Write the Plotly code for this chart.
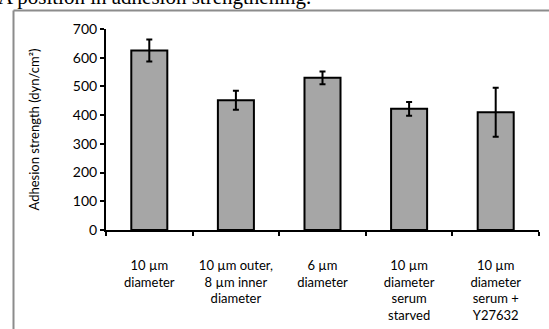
import plotly.graph_objects as go

categories = [
    "10 µm<br>diameter",
    "10 µm outer,<br>8 µm inner<br>diameter",
    "6 µm<br>diameter",
    "10 µm<br>diameter<br>serum<br>starved",
    "10 µm<br>diameter<br>serum +<br>Y27632",
]
values = [625, 452, 530, 422, 410]
errors = [38, 33, 22, 24, 85]
y_ticks = [0, 100, 200, 300, 400, 500, 600, 700]

W, H = 549, 329
L, R, T, B = 106, 10, 29, 99
pw, ph = W - L - R, H - T - B

def px_x(p):
    return (p - L) / pw

def px_y(p):
    return (H - B - p) / ph

fig = go.Figure()
fig.add_trace(go.Bar(
    x=categories, y=values,
    marker=dict(color="#a6a6a6", line=dict(color="black", width=2)),
    error_y=dict(type="data", array=errors, visible=True,
                 color="black", thickness=2, width=3),
))

font = "Lato, 'Open Sans', sans-serif"
fig.update_layout(
    width=W, height=H,
    margin=dict(l=L, r=R, t=T, b=B, autoexpand=False),
    paper_bgcolor="white", plot_bgcolor="white",
    bargap=0.584,
    showlegend=False,
    font=dict(family=font, size=13, color="black"),
    xaxis=dict(
        type="category", showline=True, linecolor="black", linewidth=2,
        ticks="outside", tickson="boundaries", ticklen=4, tickwidth=1.5,
        tickcolor="black", showgrid=False, zeroline=False, automargin=False,
        tickfont=dict(size=13), ticklabelstandoff=22,
    ),
    yaxis=dict(
        range=[0, 700], tickvals=y_ticks, showline=True, linecolor="black",
        linewidth=2, ticks="outside", ticklen=4, tickwidth=1.5,
        tickcolor="black", showgrid=False, zeroline=False, automargin=False,
        tickfont=dict(size=14),
        title=dict(text="Adhesion strength (dyn/cm²)", font=dict(size=13), standoff=30),
    ),
    shapes=[
        dict(type="line", xref="paper", yref="paper",
             x0=px_x(13.5), x1=px_x(13.5), y0=px_y(340), y1=px_y(10.5),
             line=dict(color="#8c8c8c", width=2)),
        dict(type="line", xref="paper", yref="paper",
             x0=px_x(13.5), x1=px_x(560), y0=px_y(10.5), y1=px_y(10.5),
             line=dict(color="#8c8c8c", width=2)),
    ],
    annotations=[
        dict(text="A position in adhesion strengthening.", xref="paper", yref="paper",
             x=px_x(-4), y=px_y(11), xanchor="left", yanchor="bottom",
             showarrow=False, font=dict(family="Liberation Serif, serif", size=21, color="black")),
    ],
)

fig.write_html("out.html", config={"displayModeBar": False},
               post_script="document.body.style.margin='0';")
